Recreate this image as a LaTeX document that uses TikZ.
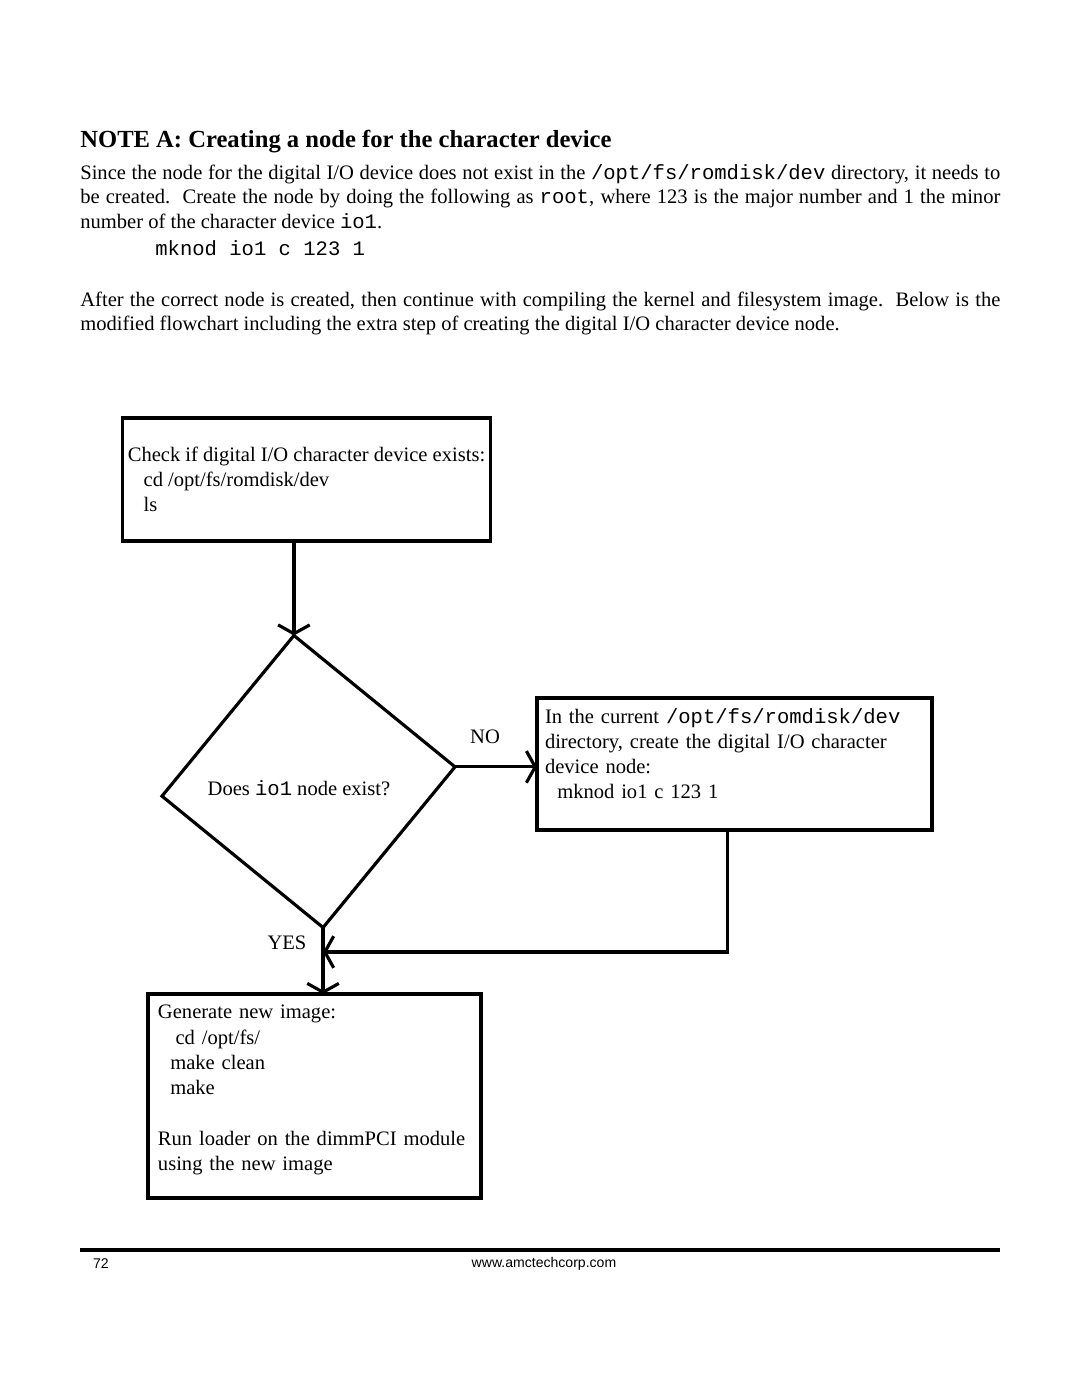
\documentclass[tikz,border=0pt]{standalone}
\usepackage{fontspec}
\setmainfont{Liberation Serif}
\setmonofont{Liberation Mono}
\setsansfont{Liberation Sans}
\usetikzlibrary{arrows.meta,shapes.geometric}

\begin{document}
\begin{tikzpicture}[x=0.2mm,y=-0.2mm,
	box/.style={draw,line width=1.8pt,inner ysep=0pt,outer sep=0pt,align=left,font=\fontsize{11.7}{14.4}\selectfont},
	decision/.style={draw,diamond,line width=1.8pt,inner sep=0pt,outer sep=0pt},
	flow/.style={line width=1.8pt,-{Straight Barb[length=5pt,width=18pt]}},
	tag/.style={inner sep=0pt,font=\fontsize{11.7}{14}\selectfont},
	para/.style={anchor=base west,inner sep=0pt,text width=184mm,align=justify,font=\fontsize{11.7}{14.2}\selectfont}]
	\useasboundingbox (0,0) rectangle (1080,1397);

	% heading and text
	\node[anchor=base west,inner sep=0pt,font=\fontsize{14}{17}\selectfont\bfseries] (title) at (80,147) {NOTE A: Creating a node for the character device};
	\node[para] (intro) at (80,179) {Since the node for the digital I/O device does not exist in the \texttt{/opt/fs/romdisk/dev} directory, it needs to\linebreak be created.\ \ Create the node by doing the following as \texttt{root}, where 123 is the major number and 1 the minor\linebreak number of the character device \texttt{io1}.};
	\node[anchor=base west,inner sep=0pt,font=\fontsize{11.7}{14}\ttfamily] (cmd) at (155,255) {mknod io1 c 123 1};
	\node[para] (after) at (80,306) {After the correct node is created, then continue with compiling the kernel and filesystem image.\ \ Below is the\linebreak modified flowchart including the extra step of creating the digital I/O character device node.};

	% flowchart
	\node[box,minimum width=73.6mm,minimum height=24.6mm,inner xsep=0pt] (check) at (306.5,479.5) {Check if digital I/O character device exists:\\\hspace*{9pt}cd /opt/fs/romdisk/dev\\\hspace*{9pt}ls};
	\node[decision,minimum width=58.9mm,minimum height=58.7mm,rotate=5.7] (exists) at (308.5,781.5) {};%skewed diamond
	\node[tag] (question) at (299,788) {Does \texttt{io1} node exist?};
	\node[box,minimum width=79mm,minimum height=26.4mm,inner xsep=1.6mm,text width=75.8mm] (fix) at (734.5,764) {In the current \texttt{/opt/fs/romdisk/dev}\\directory, create the digital I/O character\\device node:\\\hspace*{7pt}mknod io1 c 123 1\\[-6.8pt]\strut};
	\node[box,minimum width=66.6mm,minimum height=40.8mm,inner xsep=2mm,text width=62.6mm] (image) at (314.5,1096) {Generate new image:\\\hspace*{10pt}cd /opt/fs/\\\hspace*{7pt}make clean\\\hspace*{7pt}make\\[14.4pt]Run loader on the dimmPCI module\\using the new image\\[-9.4pt]\strut};
	\coordinate (merge) at (323,952);

	\draw[flow] (check.south -| exists.north) -- (exists.north);
	\draw[flow] (exists.east) -- (exists.east -| fix.west);
	\draw[flow] (exists.south) -- (exists.south |- image.north);
	\draw[flow] ([xshift=-1.4mm]fix.south) |- (exists.south |- merge);
	\node[tag] (no) at (485,737) {NO};
	\node[tag] (yes) at (287,943) {YES};

	% footer
	\draw[line width=2.8pt] (80,1250) -- (1000,1250);
	\node[font=\fontsize{8}{10}\sffamily] (page) at (101,1264) {72};
	\node[font=\fontsize{8}{10}\sffamily] (site) at (544,1264) {www.amctechcorp.com};
\end{tikzpicture}
\end{document}
